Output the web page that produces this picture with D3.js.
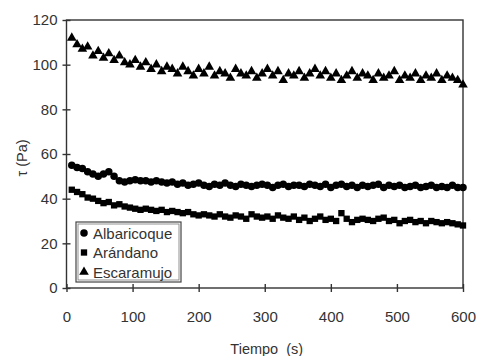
<!DOCTYPE html>
<html>
<head>
<meta charset="utf-8">
<script src="https://cdn.jsdelivr.net/npm/d3@7"></script>
<style>
  body { margin: 0; background: #fff; }
  text { font-family: "Liberation Sans", Arial, sans-serif; fill: #333; }
</style>
</head>
<body>
<svg id="chart"></svg>
<script>
// tiempo (s)
const tiempo = [8, 16, 24, 32, 40, 48, 56, 64, 72, 80, 88, 96, 104, 112, 120, 128, 136, 144, 152, 160,
	168, 176, 184, 192, 200, 208, 216, 224, 232, 240, 248, 256, 264, 272, 280, 288, 296, 304, 312, 320,
	328, 336, 344, 352, 360, 368, 376, 384, 392, 400, 408, 416, 424, 432, 440, 448, 456, 464, 472, 480,
	488, 496, 504, 512, 520, 528, 536, 544, 552, 560, 568, 576, 584, 592, 600];

const albaricoque = [55, 54, 53.5, 52, 51, 50, 51, 52, 50, 48, 47.5, 48, 48.5, 48, 48, 47.5, 48, 47.5, 47, 47.5,
	46.5, 47, 46, 46.5, 47, 46, 45.5, 46.5, 46, 47, 46, 45.5, 46.5, 46, 45.5, 46, 46.5, 46, 45, 46,
	46.5, 45.5, 46, 46, 45.5, 46.5, 46, 45.5, 46.5, 45, 46, 46.5, 45.5, 46, 45, 46, 45.5, 46, 46.5, 45,
	46, 45.5, 46, 45, 45.5, 46, 45, 45.5, 46, 45, 45.5, 45, 46, 45, 45];

const arandano = [44, 43, 42, 40.5, 40, 39, 38, 38.5, 37, 37.5, 36.5, 36, 35.5, 35, 35.5, 35, 34.5, 35, 34, 34.5,
	34, 33.5, 34, 33, 32.5, 33, 32.5, 32, 33, 32, 31.5, 32.5, 32, 31, 33, 32, 31.5, 32, 31, 32.5,
	31.5, 31, 32, 30.5, 31.5, 30, 31, 32, 30.5, 31, 30, 33.5, 31, 29.5, 30.5, 31, 30.5, 30, 31, 31.5,
	30, 30.5, 29, 30, 30.5, 29.5, 30, 29, 30, 29.5, 29, 29.5, 29, 28.5, 28];

const escaramujo = [112, 109, 107, 108, 104, 106, 103, 105, 102, 104, 101, 100, 102, 99, 101, 98, 100, 97, 99, 98,
	96, 99, 97, 95, 98, 96, 99, 95, 97, 96, 94, 98, 96, 95, 97, 94, 96, 98, 95, 97,
	93, 96, 95, 97, 94, 96, 98, 95, 97, 94, 96, 93, 95, 97, 94, 96, 95, 93, 96, 94,
	95, 97, 93, 95, 94, 96, 93, 95, 94, 96, 93, 95, 94, 93, 91];

const xTicks = [0, 100, 200, 300, 400, 500, 600];
const yTicks = [0, 20, 40, 60, 80, 100, 120];

const series = [
	{ name: "Albaricoque", values: albaricoque, symbol: d3.symbolCircle, size: 44 },
	{ name: "Arándano", values: arandano, symbol: d3.symbolSquare, size: 40 },
	{ name: "Escaramujo", values: escaramujo, symbol: d3.symbolTriangle, size: 40 }
];

const width = 478;
const height = 356;
const margin = { top: 20, right: 15, bottom: 68, left: 66.5 };

const svg = d3.select("#chart")
	.attr("width", width)
	.attr("height", height);

const xScale = d3.scaleLinear().domain([0, 600]).range([margin.left, width - margin.right]);
const yScale = d3.scaleLinear().domain([0, 120]).range([height - margin.bottom, margin.top]);

// frame
svg.append("rect")
	.attr("x", xScale(0))
	.attr("y", yScale(120))
	.attr("width", xScale(600) - xScale(0))
	.attr("height", yScale(0) - yScale(120))
	.attr("fill", "none")
	.attr("stroke", "#333")
	.attr("stroke-width", 1.4);

// axes, ticks cross the line
const xAxis = d3.axisBottom(xScale).tickValues(xTicks).tickSize(0).tickPadding(23);
const yAxis = d3.axisLeft(yScale).tickValues(yTicks).tickSize(0).tickPadding(9);

const gx = svg.append("g")
	.attr("class", "x-axis")
	.attr("transform", `translate(0, ${yScale(0)})`)
	.call(xAxis);
const gy = svg.append("g")
	.attr("class", "y-axis")
	.attr("transform", `translate(${xScale(0)}, 0)`)
	.call(yAxis);

[gx, gy].forEach(g => {
	g.select(".domain").remove();
	g.selectAll("text").attr("font-size", 15).attr("fill", "#333");
});

gx.selectAll(".tick").append("line")
	.attr("y1", -4).attr("y2", 4)
	.attr("stroke", "#333").attr("stroke-width", 1.4);
gy.selectAll(".tick").append("line")
	.attr("x1", -4).attr("x2", 4)
	.attr("stroke", "#333").attr("stroke-width", 1.4);

// axis titles
svg.append("text")
	.attr("x", (xScale(0) + xScale(600)) / 2 + 2)
	.attr("y", 354)
	.attr("text-anchor", "middle")
	.attr("font-size", 14.5)
	.style("white-space", "pre")
	.text("Tiempo  (s)");

svg.append("text")
	.attr("transform", `translate(27, ${(yScale(0) + yScale(120)) / 2 + 4}) rotate(-90)`)
	.attr("text-anchor", "middle")
	.attr("font-size", 14.5)
	.text("τ (Pa)");

// points
series.forEach(s => {
	const sym = d3.symbol().type(s.symbol).size(s.size);
	svg.append("g")
		.selectAll("path")
		.data(s.values)
		.join("path")
		.attr("d", sym)
		.attr("fill", "#000")
		.attr("transform", (d, i) => `translate(${xScale(tiempo[i])}, ${yScale(d)})`);
});

// legend
const legend = svg.append("g").attr("transform", "translate(76, 222)");
legend.append("rect")
	.attr("x", 0).attr("y", 0)
	.attr("width", 105).attr("height", 60)
	.attr("fill", "#fff")
	.attr("stroke", "#444").attr("stroke-width", 1.2);
legend.append("rect")
	.attr("x", 2).attr("y", 2)
	.attr("width", 101).attr("height", 56)
	.attr("fill", "none")
	.attr("stroke", "#777").attr("stroke-width", 0.8);

series.forEach((s, i) => {
	const row = legend.append("g").attr("transform", `translate(0, ${11 + i * 19.5})`);
	row.append("path")
		.attr("d", d3.symbol().type(s.symbol).size(s.size))
		.attr("transform", "translate(8, 0)")
		.attr("fill", "#000");
	row.append("text")
		.attr("x", 17)
		.attr("y", 5.5)
		.attr("font-size", 15)
		.text(s.name);
});
</script>
</body>
</html>
